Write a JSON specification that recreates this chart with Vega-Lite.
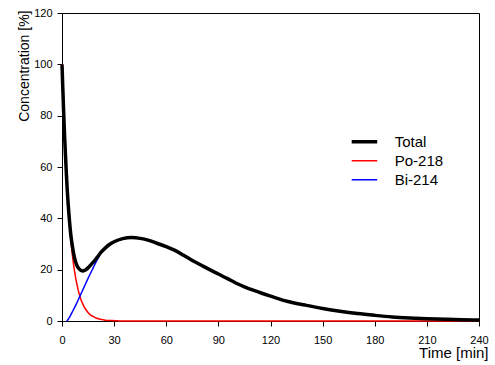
{
  "$schema": "https://vega.github.io/schema/vega-lite/v6.json",
  "width": 417,
  "height": 308,
  "autosize": "none",
  "padding": {"left": 62, "top": 13, "right": 16, "bottom": 44},
  "config": {
    "font": "Liberation Sans",
    "view": {"stroke": "black", "strokeWidth": 1},
    "axis": {
      "grid": false,
      "domainColor": "black",
      "tickColor": "black",
      "labelColor": "black",
      "titleColor": "black",
      "tickSize": 5,
      "labelFontSize": 11,
      "titleFontSize": 14,
      "titleFontWeight": "normal",
      "labelFont": "Liberation Sans",
      "titleFont": "Liberation Sans"
    },
    "legend": {"labelFont": "Liberation Sans"}
  },
  "data": {
    "values": [
      {"t": 0, "c": 100, "s": "Po-218"},
      {"t": 1, "c": 79.7, "s": "Po-218"},
      {"t": 2, "c": 63.5, "s": "Po-218"},
      {"t": 3, "c": 50.6, "s": "Po-218"},
      {"t": 4, "c": 40.3, "s": "Po-218"},
      {"t": 5, "c": 32.1, "s": "Po-218"},
      {"t": 6, "c": 25.6, "s": "Po-218"},
      {"t": 7, "c": 20.4, "s": "Po-218"},
      {"t": 8, "c": 16.3, "s": "Po-218"},
      {"t": 9, "c": 13.0, "s": "Po-218"},
      {"t": 10, "c": 10.3, "s": "Po-218"},
      {"t": 11, "c": 8.2, "s": "Po-218"},
      {"t": 12, "c": 6.6, "s": "Po-218"},
      {"t": 13, "c": 5.2, "s": "Po-218"},
      {"t": 14, "c": 4.2, "s": "Po-218"},
      {"t": 15, "c": 3.3, "s": "Po-218"},
      {"t": 16, "c": 2.6, "s": "Po-218"},
      {"t": 18, "c": 1.7, "s": "Po-218"},
      {"t": 20, "c": 1.1, "s": "Po-218"},
      {"t": 22, "c": 0.7, "s": "Po-218"},
      {"t": 25, "c": 0.3, "s": "Po-218"},
      {"t": 28, "c": 0.15, "s": "Po-218"},
      {"t": 32, "c": 0.05, "s": "Po-218"},
      {"t": 35, "c": 0, "s": "Po-218"},
      {"t": 60, "c": 0, "s": "Po-218"},
      {"t": 120, "c": 0, "s": "Po-218"},
      {"t": 180, "c": 0, "s": "Po-218"},
      {"t": 240, "c": 0, "s": "Po-218"},
      {"t": 2.7, "c": 0, "s": "Bi-214"},
      {"t": 3.5, "c": 0.6, "s": "Bi-214"},
      {"t": 4, "c": 1.1, "s": "Bi-214"},
      {"t": 5, "c": 2.3, "s": "Bi-214"},
      {"t": 6, "c": 3.6, "s": "Bi-214"},
      {"t": 7.5, "c": 5.6, "s": "Bi-214"},
      {"t": 10, "c": 9.2, "s": "Bi-214"},
      {"t": 12.5, "c": 12.9, "s": "Bi-214"},
      {"t": 15, "c": 16.6, "s": "Bi-214"},
      {"t": 17.5, "c": 20.1, "s": "Bi-214"},
      {"t": 20, "c": 23.5, "s": "Bi-214"},
      {"t": 22.5, "c": 26.5, "s": "Bi-214"},
      {"t": 25, "c": 28.5, "s": "Bi-214"},
      {"t": 30, "c": 30.9, "s": "Bi-214"},
      {"t": 35, "c": 32.1, "s": "Bi-214"},
      {"t": 40, "c": 32.5, "s": "Bi-214"},
      {"t": 45, "c": 32.2, "s": "Bi-214"},
      {"t": 50, "c": 31.4, "s": "Bi-214"},
      {"t": 60, "c": 29, "s": "Bi-214"},
      {"t": 80, "c": 21.8, "s": "Bi-214"},
      {"t": 100, "c": 14.8, "s": "Bi-214"},
      {"t": 120, "c": 9.7, "s": "Bi-214"},
      {"t": 150, "c": 4.9, "s": "Bi-214"},
      {"t": 180, "c": 2.2, "s": "Bi-214"},
      {"t": 210, "c": 0.9, "s": "Bi-214"},
      {"t": 240, "c": 0.4, "s": "Bi-214"},
      {"t": 0, "c": 100, "s": "Total"},
      {"t": 0.5, "c": 90, "s": "Total"},
      {"t": 1, "c": 80.5, "s": "Total"},
      {"t": 1.5, "c": 72, "s": "Total"},
      {"t": 2, "c": 64.5, "s": "Total"},
      {"t": 2.5, "c": 57.5, "s": "Total"},
      {"t": 3, "c": 51.3, "s": "Total"},
      {"t": 3.5, "c": 46, "s": "Total"},
      {"t": 4, "c": 41.5, "s": "Total"},
      {"t": 5, "c": 34, "s": "Total"},
      {"t": 6, "c": 29, "s": "Total"},
      {"t": 7, "c": 25.3, "s": "Total"},
      {"t": 8, "c": 22.7, "s": "Total"},
      {"t": 9, "c": 21.1, "s": "Total"},
      {"t": 10, "c": 20.2, "s": "Total"},
      {"t": 11, "c": 19.7, "s": "Total"},
      {"t": 12, "c": 19.5, "s": "Total"},
      {"t": 13, "c": 19.7, "s": "Total"},
      {"t": 14, "c": 20.1, "s": "Total"},
      {"t": 15, "c": 20.7, "s": "Total"},
      {"t": 16, "c": 21.4, "s": "Total"},
      {"t": 18, "c": 22.9, "s": "Total"},
      {"t": 20, "c": 24.6, "s": "Total"},
      {"t": 22.5, "c": 26.8, "s": "Total"},
      {"t": 25, "c": 28.5, "s": "Total"},
      {"t": 27.5, "c": 29.9, "s": "Total"},
      {"t": 30, "c": 30.9, "s": "Total"},
      {"t": 35, "c": 32.1, "s": "Total"},
      {"t": 40, "c": 32.5, "s": "Total"},
      {"t": 45, "c": 32.2, "s": "Total"},
      {"t": 50, "c": 31.4, "s": "Total"},
      {"t": 55, "c": 30.2, "s": "Total"},
      {"t": 60, "c": 29, "s": "Total"},
      {"t": 65, "c": 27.5, "s": "Total"},
      {"t": 70, "c": 25.6, "s": "Total"},
      {"t": 75, "c": 23.6, "s": "Total"},
      {"t": 80, "c": 21.8, "s": "Total"},
      {"t": 85, "c": 20, "s": "Total"},
      {"t": 90, "c": 18.3, "s": "Total"},
      {"t": 95, "c": 16.6, "s": "Total"},
      {"t": 100, "c": 14.8, "s": "Total"},
      {"t": 105, "c": 13.3, "s": "Total"},
      {"t": 110, "c": 12, "s": "Total"},
      {"t": 115, "c": 10.8, "s": "Total"},
      {"t": 120, "c": 9.7, "s": "Total"},
      {"t": 130, "c": 7.6, "s": "Total"},
      {"t": 140, "c": 6.2, "s": "Total"},
      {"t": 150, "c": 4.9, "s": "Total"},
      {"t": 160, "c": 3.8, "s": "Total"},
      {"t": 170, "c": 2.9, "s": "Total"},
      {"t": 180, "c": 2.2, "s": "Total"},
      {"t": 190, "c": 1.6, "s": "Total"},
      {"t": 200, "c": 1.2, "s": "Total"},
      {"t": 210, "c": 0.9, "s": "Total"},
      {"t": 220, "c": 0.7, "s": "Total"},
      {"t": 230, "c": 0.5, "s": "Total"},
      {"t": 240, "c": 0.4, "s": "Total"}
    ]
  },
  "encoding": {
    "x": {
      "field": "t",
      "type": "quantitative",
      "scale": {"domain": [0, 240], "nice": false, "zero": false},
      "axis": {
        "values": [0, 30, 60, 90, 120, 150, 180, 210, 240],
        "labelPadding": 8,
        "labelFlush": false,
        "title": "Time [min]",
        "titleFontSize": 15,
        "titleAnchor": "end",
        "titleAlign": "right",
        "titleBaseline": "alphabetic",
        "titleX": 426,
        "titleY": 36.5
      }
    },
    "y": {
      "field": "c",
      "type": "quantitative",
      "scale": {"domain": [0, 120], "nice": false},
      "axis": {
        "values": [0, 20, 40, 60, 80, 100, 120],
        "labelPadding": 5,
        "labelFlush": false,
        "title": "Concentration [%]",
        "titleAngle": -90,
        "titleAlign": "right",
        "titleBaseline": "alphabetic",
        "titleX": -34,
        "titleY": -3
      }
    },
    "color": {
      "field": "s",
      "type": "nominal",
      "scale": {"domain": ["Total", "Po-218", "Bi-214"], "range": ["black", "red", "blue"]},
      "legend": {
        "title": null,
        "orient": "none",
        "legendX": 289.7,
        "legendY": 119.3,
        "padding": 0,
        "symbolType": "stroke",
        "symbolSize": 1296,
        "symbolStrokeWidth": 1.5,
        "clipHeight": 18.7,
        "rowPadding": 0,
        "labelOffset": 28,
        "labelFontSize": 15,
        "labelColor": "black",
        "encode": {
          "symbols": {
            "update": {
              "strokeWidth": {"signal": "datum.value === 'Total' ? 3.5 : 1.5"}
            }
          }
        }
      }
    }
  },
  "layer": [
    {
      "transform": [{"filter": "datum.s !== 'Total'"}],
      "mark": {"type": "line", "strokeWidth": 1.5, "interpolate": "monotone"}
    },
    {
      "transform": [{"filter": "datum.s === 'Total'"}],
      "mark": {"type": "line", "strokeWidth": 3.5, "interpolate": "monotone"}
    }
  ]
}
